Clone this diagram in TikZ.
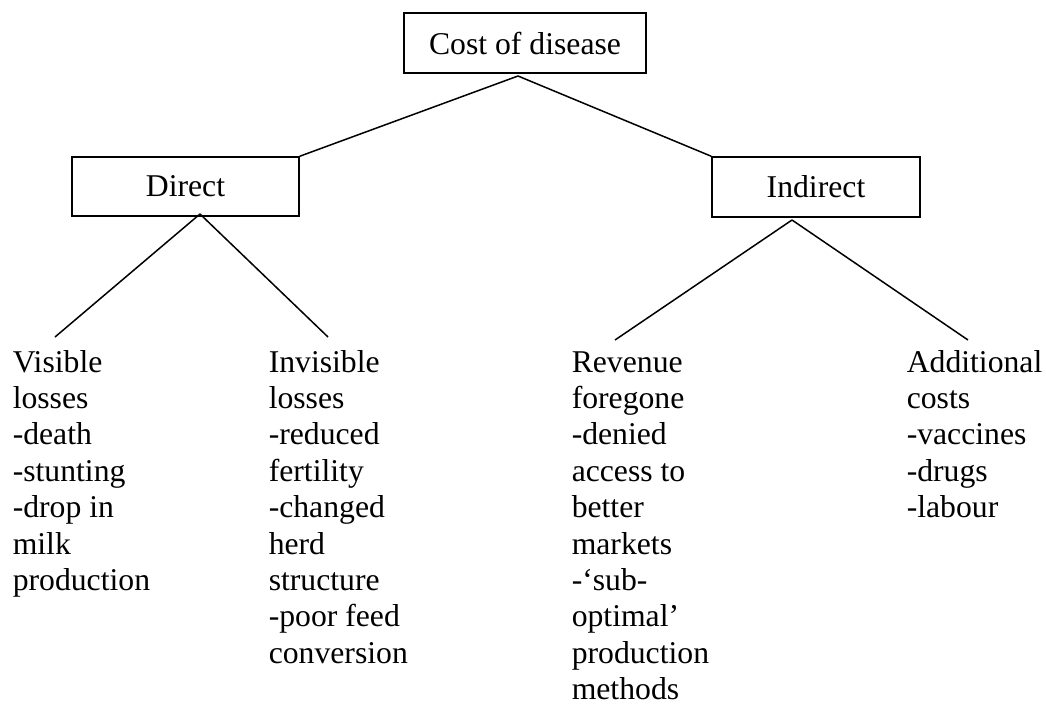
\documentclass[tikz,border=0pt]{standalone}
\usepackage{fontspec}
\setmainfont{Liberation Serif}
\usepackage{tikz}

\newcommand{\leaflines}[1]{\parbox[t]{150pt}{\raggedright #1}}

\begin{document}
\begin{tikzpicture}[
        x=1pt, y=-1pt,
        line width=1.5pt,
        every node/.style={font=\fontsize{31.7}{36.4}\selectfont},
        costbox/.style={draw, inner sep=0pt, minimum height=60pt},
        leaf/.style={anchor=base west, inner sep=0pt}
    ]
    \useasboundingbox (0,0) rectangle (1046,704);
    \node[costbox, minimum width=242pt] (cost) at (525,43) {Cost of disease};
    \node[costbox, minimum width=227pt, minimum height=59pt] (direct) at (185.5,186.5) {Direct};
    \node[costbox, minimum width=208pt] (indirect) at (816,187) {Indirect};
    \coordinate (cost-tip) at (518,76);
    \coordinate (direct-tip) at (200,214);
    \coordinate (indirect-tip) at (792,220);
    \coordinate (visible-tip) at (55,337);
    \coordinate (invisible-tip) at (328,337);
    \coordinate (revenue-tip) at (615,340);
    \coordinate (additional-tip) at (968,340);
    \node[leaf] (visible) at (12,372)
        {\leaflines{Visible\\losses\\-death\\-stunting\\-drop in\\milk\\production}};
    \node[leaf] (invisible) at (268,372)
        {\leaflines{Invisible\\losses\\-reduced\\fertility\\-changed\\herd\\structure\\-poor feed\\conversion}};
    \node[leaf] (revenue) at (571,372)
        {\leaflines{Revenue\\foregone\\-denied\\access to\\better\\markets\\-‘sub-\\optimal’\\production\\methods}};
    \node[leaf] (additional) at (906,372)
        {\leaflines{Additional\\costs\\-vaccines\\-drugs\\-labour}};
    \draw (cost-tip) -- (direct.north east);
    \draw (cost-tip) -- (indirect.north west);
    \draw (direct-tip) -- (visible-tip);
    \draw (direct-tip) -- (invisible-tip);
    \draw (indirect-tip) -- (revenue-tip);
    \draw (indirect-tip) -- (additional-tip);
\end{tikzpicture}
\end{document}
